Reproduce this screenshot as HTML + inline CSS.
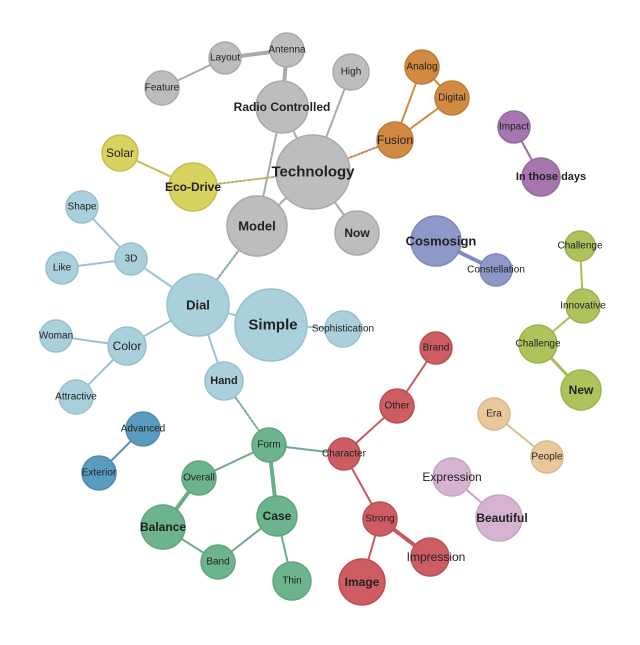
<!DOCTYPE html><html><head><style>body{margin:0;background:#fff}svg text{font-family:"Liberation Sans",sans-serif;text-anchor:middle;dominant-baseline:central;fill:#222}</style></head><body>
<svg width="640" height="640" viewBox="0 0 640 640">
<g stroke-linecap="round" fill="none">
<g stroke="#aaa" stroke-width="2"><line x1="162" y1="88" x2="225" y2="58"/><line x1="225" y1="58" x2="287" y2="50" stroke-width="4"/><line x1="287" y1="50" x2="282" y2="107" stroke-width="4"/><line x1="282" y1="107" x2="313" y2="172"/><line x1="351" y1="72" x2="313" y2="172"/><line x1="313" y1="172" x2="357" y2="233"/><line x1="313" y1="172" x2="257" y2="226"/><line x1="282" y1="107" x2="257" y2="226"/></g>
<line x1="313" y1="172" x2="193" y2="187" stroke="#b8b070" stroke-width="2" stroke-dasharray="2 2"/>
<line x1="313" y1="172" x2="395" y2="140" stroke="#c8875a" stroke-width="2" stroke-dasharray="2 2"/>
<line x1="193" y1="187" x2="120" y2="153" stroke="#c4c050" stroke-width="2"/>
<g stroke="#cf8a45" stroke-width="2"><line x1="395" y1="140" x2="422" y2="67"/><line x1="395" y1="140" x2="452" y2="98"/><line x1="422" y1="67" x2="452" y2="98"/></g>
<line x1="514" y1="127" x2="541" y2="177" stroke="#9a6fa8" stroke-width="2"/>
<line x1="436" y1="241" x2="496" y2="270" stroke="#7f8cc0" stroke-width="4"/>
<g stroke="#a9bc55" stroke-width="2"><line x1="580" y1="246" x2="583" y2="306"/><line x1="583" y1="306" x2="538" y2="344"/><line x1="538" y1="344" x2="581" y2="390" stroke-width="3"/></g>
<line x1="198" y1="305" x2="257" y2="226" stroke="#8aa" stroke-width="2" stroke-dasharray="2 2"/>
<line x1="224" y1="381" x2="269" y2="445" stroke="#7aab9a" stroke-width="2" stroke-dasharray="2 2"/>
<g stroke="#9cc3cf" stroke-width="2"><line x1="198" y1="305" x2="271" y2="325"/><line x1="271" y1="325" x2="343" y2="329"/><line x1="198" y1="305" x2="224" y2="381"/><line x1="198" y1="305" x2="131" y2="259"/><line x1="131" y1="259" x2="82" y2="207"/><line x1="131" y1="259" x2="62" y2="268"/><line x1="198" y1="305" x2="127" y2="346"/><line x1="127" y1="346" x2="56" y2="336"/><line x1="127" y1="346" x2="76" y2="397"/></g>
<line x1="143" y1="429" x2="99" y2="473" stroke="#5b8fb0" stroke-width="2"/>
<g stroke="#6aae88" stroke-width="2"><line x1="269" y1="445" x2="199" y2="478"/><line x1="199" y1="478" x2="163" y2="527" stroke-width="4"/><line x1="163" y1="527" x2="218" y2="562"/><line x1="218" y1="562" x2="277" y2="516"/><line x1="269" y1="445" x2="277" y2="516" stroke-width="4"/><line x1="277" y1="516" x2="292" y2="581"/><line x1="269" y1="445" x2="344" y2="454"/></g>
<g stroke="#c9585f" stroke-width="2"><line x1="344" y1="454" x2="397" y2="406"/><line x1="397" y1="406" x2="436" y2="348"/><line x1="344" y1="454" x2="380" y2="519"/><line x1="380" y1="519" x2="362" y2="582"/><line x1="380" y1="519" x2="430" y2="557" stroke-width="4"/></g>
<line x1="452" y1="477" x2="499" y2="518" stroke="#c9a2c4" stroke-width="2"/>
<line x1="494" y1="414" x2="547" y2="457" stroke="#ddbb8c" stroke-width="2"/>
</g>
<g stroke-width="1.5">
<g fill="#bdbdbd" stroke="#aaa"><circle cx="162" cy="88" r="17"/><circle cx="225" cy="58" r="16"/><circle cx="287" cy="50" r="17"/><circle cx="282" cy="107" r="26"/><circle cx="351" cy="72" r="18"/><circle cx="313" cy="172" r="37"/><circle cx="257" cy="226" r="30"/><circle cx="357" cy="233" r="22"/></g>
<g fill="#d8d25e" stroke="#c4bf4c"><circle cx="120" cy="153" r="18"/><circle cx="193" cy="187" r="24"/></g>
<g fill="#d28a42" stroke="#bf7a36"><circle cx="395" cy="140" r="18"/><circle cx="422" cy="67" r="17"/><circle cx="452" cy="98" r="17"/></g>
<g fill="#a576b0" stroke="#946aa0"><circle cx="514" cy="127" r="16"/><circle cx="541" cy="177" r="19"/></g>
<g fill="#8e99c9" stroke="#7e89b9"><circle cx="436" cy="241" r="25"/><circle cx="496" cy="270" r="16"/></g>
<g fill="#afc35c" stroke="#9db24e"><circle cx="580" cy="246" r="15"/><circle cx="583" cy="306" r="17"/><circle cx="538" cy="344" r="19"/><circle cx="581" cy="390" r="20"/></g>
<g fill="#aad0dc" stroke="#98c0cd"><circle cx="198" cy="305" r="31"/><circle cx="271" cy="325" r="36"/><circle cx="343" cy="329" r="18"/><circle cx="224" cy="381" r="19"/><circle cx="131" cy="259" r="16"/><circle cx="82" cy="207" r="16"/><circle cx="62" cy="268" r="16"/><circle cx="127" cy="346" r="19"/><circle cx="56" cy="336" r="16"/><circle cx="76" cy="397" r="17"/></g>
<g fill="#5b9bbf" stroke="#4e8bae"><circle cx="143" cy="429" r="17"/><circle cx="99" cy="473" r="17"/></g>
<g fill="#6db38d" stroke="#5ea47e"><circle cx="269" cy="445" r="17"/><circle cx="199" cy="478" r="17"/><circle cx="163" cy="527" r="22"/><circle cx="218" cy="562" r="17"/><circle cx="277" cy="516" r="20"/><circle cx="292" cy="581" r="19"/></g>
<g fill="#cd5c63" stroke="#bc4e55"><circle cx="344" cy="454" r="16"/><circle cx="397" cy="406" r="17"/><circle cx="436" cy="348" r="16"/><circle cx="380" cy="519" r="17"/><circle cx="430" cy="557" r="19"/><circle cx="362" cy="582" r="23"/></g>
<g fill="#d7b3d2" stroke="#c8a3c3"><circle cx="452" cy="477" r="19"/><circle cx="499" cy="518" r="23"/></g>
<g fill="#e9c99b" stroke="#d9b98b"><circle cx="494" cy="414" r="16"/><circle cx="547" cy="457" r="16"/></g>
</g>
<g font-size="10">
<text x="162" y="88">Feature</text><text x="225" y="58">Layout</text><text x="287" y="50">Antenna</text><text x="351" y="72">High</text>
<text x="422" y="67">Analog</text><text x="452" y="98">Digital</text><text x="514" y="127">Impact</text><text x="496" y="270">Constellation</text>
<text x="580" y="246">Challenge</text><text x="583" y="306">Innovative</text><text x="538" y="344">Challenge</text>
<text x="343" y="329">Sophistication</text><text x="131" y="259">3D</text><text x="82" y="207">Shape</text><text x="62" y="268">Like</text><text x="56" y="336">Woman</text><text x="76" y="397">Attractive</text>
<text x="143" y="429">Advanced</text><text x="99" y="473">Exterior</text><text x="269" y="445">Form</text><text x="199" y="478">Overall</text><text x="218" y="562">Band</text><text x="292" y="581">Thin</text>
<text x="344" y="454">Character</text><text x="397" y="406">Other</text><text x="436" y="348">Brand</text><text x="380" y="519">Strong</text>
<text x="494" y="414">Era</text><text x="547" y="457">People</text>
</g>
<g font-size="12"><text x="120" y="153">Solar</text><text x="395" y="140">Fusion</text><text x="452" y="477">Expression</text><text x="436" y="557">Impression</text><text x="127" y="346">Color</text></g>
<g font-size="12" font-weight="bold"><text x="282" y="107">Radio Controlled</text><text x="193" y="187">Eco-Drive</text><text x="257" y="226" font-size="13">Model</text><text x="357" y="233">Now</text><text x="551" y="177" font-size="11">In those days</text><text x="441" y="241" font-size="13">Cosmosign</text><text x="581" y="390">New</text><text x="198" y="305" font-size="13">Dial</text><text x="224" y="381" font-size="11">Hand</text><text x="163" y="527">Balance</text><text x="277" y="516">Case</text><text x="362" y="582">Image</text><text x="502" y="518">Beautiful</text></g>
<text x="313" y="172" font-size="15" font-weight="bold">Technology</text>
<text x="273" y="325" font-size="15" font-weight="bold">Simple</text>
</svg></body></html>
